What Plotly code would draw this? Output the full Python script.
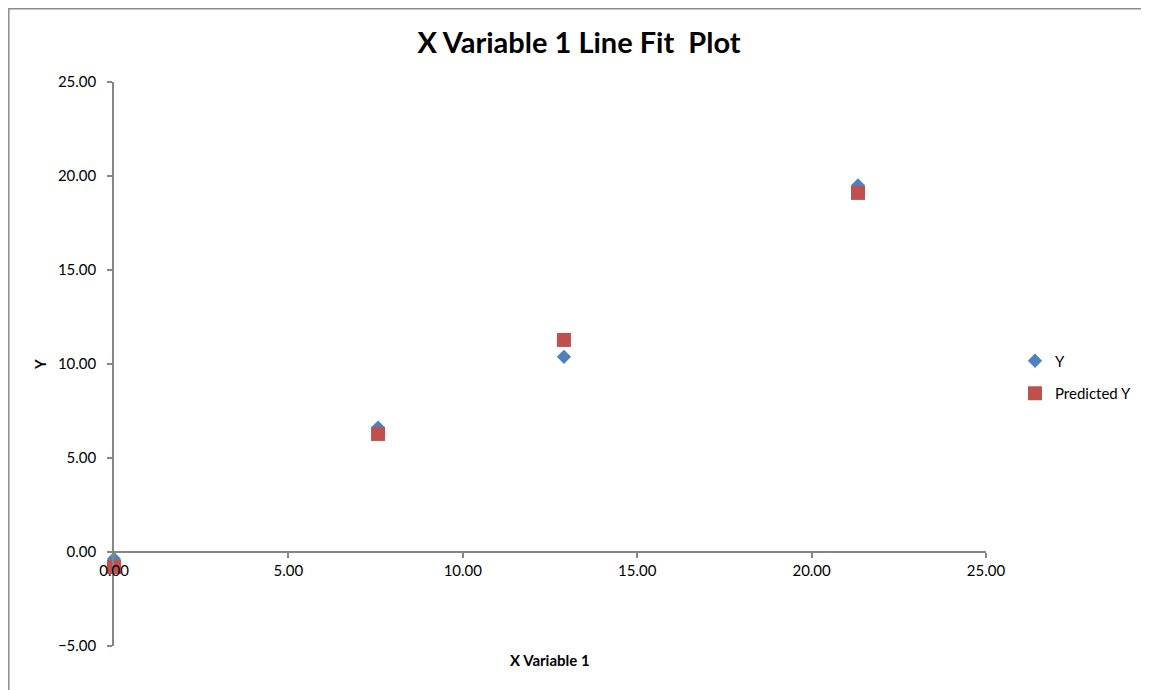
import plotly.graph_objects as go

x_values = [0.0, 7.57, 12.9, 21.33]
y_actual = [-0.37, 6.62, 10.38, 19.5]
y_predicted = [-0.8, 6.28, 11.28, 19.1]
tick_vals_x = [0, 5, 10, 15, 20, 25]
tick_vals_y = [-5, 0, 5, 10, 15, 20, 25]

FONT = "Lato"
AXIS_GRAY = "#868686"

# page body has an 8px offset; figure is sized to fill the rest of the window
W, H = 1141, 682
OFF = 8
L, R, T, B = 114 - OFF, 163, 82 - OFF, 44
PW = W - L - R
PH = H - T - B

fig = go.Figure()
fig.add_trace(go.Scatter(
    x=x_values, y=y_actual, mode="markers", name="Y", legendgroup="a",
    cliponaxis=False,
    marker=dict(symbol="diamond", size=11, color="#4F81BD"),
))
fig.add_trace(go.Scatter(
    x=x_values, y=y_predicted, mode="markers", name="Predicted Y", legendgroup="b",
    cliponaxis=False,
    marker=dict(symbol="square", size=14, color="#C0504D"),
))

y_range = [-5, 25]
zero_pos = (0 - y_range[0]) / (y_range[1] - y_range[0])

def px_x(p):
    return (p - OFF - L) / PW

def px_y(p):
    return (H - B - (p - OFF)) / PH

fig.update_layout(
    width=W, height=H,
    margin=dict(l=L, r=R, t=T, b=B, autoexpand=False),
    paper_bgcolor="white", plot_bgcolor="white",
    font=dict(family=FONT, size=15, color="black"),
    title=dict(text="<b>X Variable 1 Line Fit  Plot</b>", x=(579 - OFF) / W,
               xref="container", xanchor="center",
               y=1 - (43 - OFF) / H, yanchor="middle",
               font=dict(family=FONT, size=29, color="black")),
    showlegend=True,
    legend=dict(x=px_x(1015), y=px_y(377), xanchor="left", yanchor="middle",
                font=dict(family=FONT, size=15, color="black"),
                tracegroupgap=10, itemwidth=30, bgcolor="rgba(0,0,0,0)"),
    xaxis=dict(range=[0, 25], tickvals=tick_vals_x, tickformat=".2f",
               showgrid=False, zeroline=False, showline=True, linecolor=AXIS_GRAY, linewidth=1.5,
               ticks="outside", ticklen=5, tickcolor=AXIS_GRAY, tickwidth=1.5,
               anchor="free", position=zero_pos,
               tickfont=dict(family=FONT, size=15, color="black")),
    yaxis=dict(range=y_range, tickvals=tick_vals_y, tickformat=".2f",
               showgrid=False, zeroline=False, showline=True, linecolor=AXIS_GRAY, linewidth=1.5,
               ticks="outside", ticklen=5, tickcolor=AXIS_GRAY, tickwidth=1.5,
               ticklabelstandoff=8,
               title=dict(text="<b>Y</b>", standoff=8, font=dict(family=FONT, size=15)),
               tickfont=dict(family=FONT, size=15, color="black")),
    annotations=[dict(text="<b>X Variable 1</b>", x=0.5, y=px_y(660), xref="paper", yref="paper",
                      xanchor="center", yanchor="middle", showarrow=False,
                      font=dict(family=FONT, size=15, color="black"))],
    shapes=[dict(type="rect", xref="paper", yref="paper",
                 x0=px_x(8.8), x1=px_x(1170),
                 y0=px_y(720), y1=px_y(8.8),
                 line=dict(color="#8C8C8C", width=1.5), fillcolor="rgba(0,0,0,0)", layer="below")],
)

fig.write_html("out.html")
